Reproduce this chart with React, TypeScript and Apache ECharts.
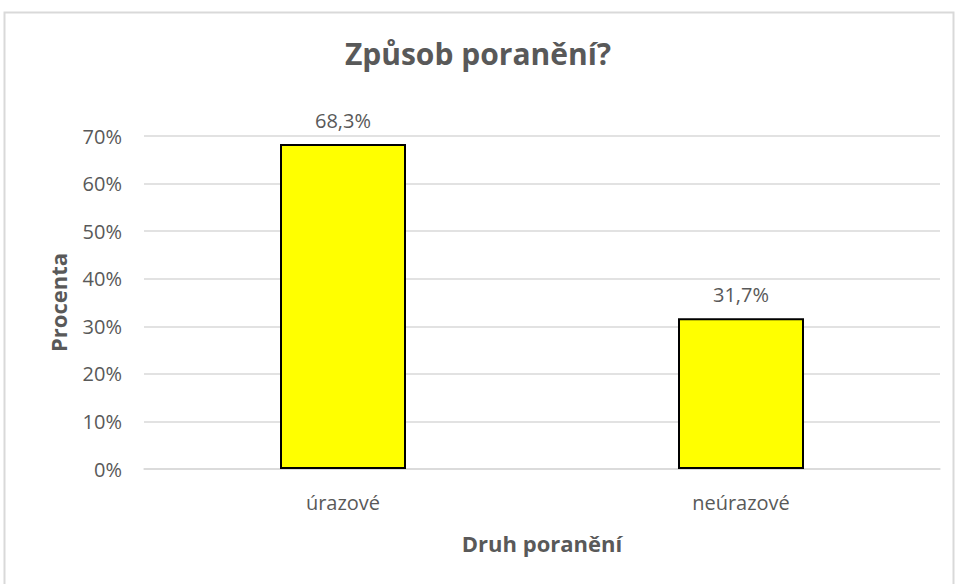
import React, { useEffect, useRef } from "react";
import * as echarts from "echarts";

const titleText = "Způsob poranění?";
const categories = ["úrazové", "neúrazové"];
const values = [68.3, 31.7];
const yAxisName = "Procenta";
const xAxisName = "Druh poranění";

const FONT = "'Open Sans', 'Noto Sans', sans-serif";
const GRAY = "#595959";

export default function App() {
  const ref = useRef<HTMLDivElement>(null);
  useEffect(() => {
    if (!ref.current) return;
    const chart = echarts.init(ref.current, null, { renderer: "svg" });
    chart.setOption({
      animation: false,
      backgroundColor: "#ffffff",
      title: {
        text: titleText,
        left: "center",
        top: 33,
        textStyle: { fontFamily: FONT, fontSize: 30, fontWeight: "bold", color: GRAY },
      },
      graphic: [
        {
          type: "rect",
          shape: { x: 4.5, y: 12.5, width: 949, height: 600 },
          style: { fill: "none", stroke: "#d9d9d9", lineWidth: 2 },
          silent: true,
        },
      ],
      grid: { left: 144, right: 16, top: 136, bottom: 115 },
      xAxis: {
        type: "category",
        data: categories,
        name: xAxisName,
        nameLocation: "middle",
        nameGap: 63,
        nameTextStyle: { fontFamily: FONT, fontSize: 22, fontWeight: "bold", color: GRAY },
        axisLine: { lineStyle: { color: "#d9d9d9", width: 1.5 } },
        axisTick: { show: false },
        axisLabel: { fontFamily: FONT, fontSize: 20, color: GRAY, margin: 23 },
      },
      yAxis: {
        type: "value",
        min: 0,
        max: 70,
        interval: 10,
        name: yAxisName,
        nameLocation: "middle",
        nameGap: 75,
        nameRotate: 90,
        nameTextStyle: { fontFamily: FONT, fontSize: 22, fontWeight: "bold", color: GRAY },
        axisLine: { show: false },
        axisTick: { show: false },
        axisLabel: {
          fontFamily: FONT,
          fontSize: 20,
          color: GRAY,
          margin: 22,
          formatter: (v: number) => `${v}%`,
        },
        splitLine: { lineStyle: { color: "#d9d9d9", width: 1.5 } },
      },
      series: [
        {
          type: "bar",
          data: values,
          barWidth: 126,
          itemStyle: { color: "#ffff00", borderColor: "#000000", borderWidth: 2 },
          label: {
            show: true,
            position: "top",
            distance: 14,
            fontFamily: FONT,
            fontSize: 20,
            color: GRAY,
            formatter: (p: any) => `${p.value.toFixed(1).replace(".", ",")}%`,
          },
        },
      ],
    });
    return () => chart.dispose();
  }, []);
  return (
    <div
      ref={ref}
      style={{ position: "fixed", left: 0, top: 0, width: 956, height: 584 }}
    />
  );
}
